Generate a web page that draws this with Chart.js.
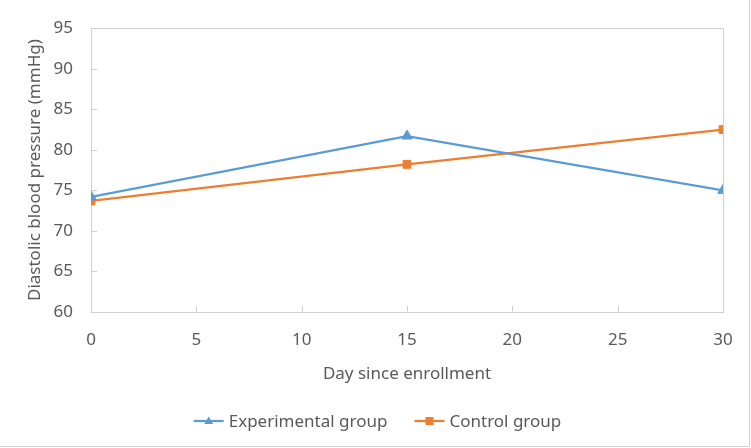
<!DOCTYPE html>
<html>
<head>
<meta charset="utf-8">
<script src="https://cdn.jsdelivr.net/npm/chart.js@4.4.1/dist/chart.umd.min.js"></script>
<style>
  html, body { margin: 0; padding: 0; background: #fff; }
  #wrap { width: 751px; height: 448px; position: relative; }
</style>
</head>
<body>
<div id="wrap"><canvas id="myChart"></canvas></div>
<script>
const days = [0, 15, 30];
const experimentalValues = [74.2, 81.7, 75.0];
const controlValues = [73.7, 78.2, 82.5];
const seriesNames = ["Experimental group", "Control group"];
const xTitle = "Day since enrollment";
const yTitle = "Diastolic blood pressure (mmHg)";

const BLUE = "#5B9BD5";
const ORANGE = "#ED7D31";
const AXIS = "#d0d0d0";
const TEXT = "#595959";
const FONT = "'Noto Sans', 'Open Sans', sans-serif";

function toPoints(xs, ys) {
  return xs.map((x, i) => ({ x: x, y: ys[i] }));
}

// box around the plot, inward tick marks, outer frame and legend
const decorations = {
  id: "decorations",
  beforeDatasetsDraw(chart) {
    const { ctx, chartArea: a, scales } = chart;
    ctx.save();
    ctx.strokeStyle = AXIS;
    ctx.lineWidth = 1;
    ctx.strokeRect(Math.round(a.left) + 0.5, Math.round(a.top) + 0.5,
      Math.round(a.right - a.left), Math.round(a.bottom - a.top));
    ctx.beginPath();
    scales.y.ticks.forEach(t => {
      const py = Math.round(scales.y.getPixelForValue(t.value)) + 0.5;
      ctx.moveTo(a.left, py);
      ctx.lineTo(a.left + 6, py);
    });
    scales.x.ticks.forEach(t => {
      const px = Math.round(scales.x.getPixelForValue(t.value)) + 0.5;
      ctx.moveTo(px, a.bottom);
      ctx.lineTo(px, a.bottom - 6);
    });
    ctx.stroke();
    ctx.restore();
  },
  afterDraw(chart) {
    const { ctx, width, height } = chart;
    ctx.save();
    ctx.strokeStyle = AXIS;
    ctx.lineWidth = 1;
    ctx.beginPath();
    ctx.moveTo(width - 1.5, 0);
    ctx.lineTo(width - 1.5, height - 1.5);
    ctx.lineTo(0, height - 1.5);
    ctx.stroke();

    ctx.font = "17px " + FONT;
    ctx.textBaseline = "middle";
    const lineLen = 30, gapText = 5, gapItem = 27;
    const items = chart.data.datasets.map(ds => ({
      ds: ds, w: ctx.measureText(ds.label).width
    }));
    let total = 0;
    items.forEach((it, i) => { total += lineLen + gapText + it.w + (i ? gapItem : 0); });
    let x = width / 2 + 2 - total / 2;
    const y = 421;
    items.forEach((it, i) => {
      if (i) x += gapItem;
      ctx.strokeStyle = it.ds.borderColor;
      ctx.lineWidth = 2.25;
      ctx.beginPath();
      ctx.moveTo(x, y);
      ctx.lineTo(x + lineLen, y);
      ctx.stroke();
      ctx.fillStyle = it.ds.borderColor;
      const cx = x + lineLen / 2;
      if (it.ds.pointStyle === "triangle") {
        ctx.beginPath();
        ctx.moveTo(cx, y - 4.5);
        ctx.lineTo(cx + 4.5, y + 3);
        ctx.lineTo(cx - 4.5, y + 3);
        ctx.closePath();
        ctx.fill();
      } else {
        ctx.fillRect(cx - 4, y - 4, 8, 8);
      }
      x += lineLen + gapText;
      ctx.fillStyle = TEXT;
      ctx.fillText(it.ds.label, x, y + 1);
      x += it.w;
    });
    ctx.restore();
  }
};

const ctx = document.getElementById("myChart").getContext("2d");
const myChart = new Chart(ctx, {
  type: "line",
  data: {
    datasets: [
      {
        label: seriesNames[0],
        data: toPoints(days, experimentalValues),
        borderColor: BLUE,
        backgroundColor: BLUE,
        borderWidth: 2.25,
        pointStyle: "triangle",
        pointRadius: 6,
        pointBorderWidth: 1,
        tension: 0,
      },
      {
        label: seriesNames[1],
        data: toPoints(days, controlValues),
        borderColor: ORANGE,
        backgroundColor: ORANGE,
        borderWidth: 2.25,
        pointStyle: "rect",
        pointRadius: 5.5,
        pointBorderWidth: 1,
        tension: 0,
      },
    ],
  },
  options: {
    responsive: true,
    maintainAspectRatio: false,
    animation: false,
    layout: { padding: { left: 0, right: 28, top: 23, bottom: 60 } },
    plugins: {
      legend: { display: false },
      tooltip: { enabled: false },
    },
    scales: {
      x: {
        type: "linear",
        min: 0,
        max: 30,
        ticks: { stepSize: 5, color: TEXT, font: { family: FONT, size: 17 }, padding: 18 },
        grid: { display: false, drawTicks: false },
        border: { display: false },
        title: { display: true, text: xTitle, color: TEXT, font: { family: FONT, size: 17 }, padding: { top: 4, bottom: 4 } },
        afterFit(scale) { scale.height = 76; },
      },
      y: {
        min: 60,
        max: 95,
        ticks: { stepSize: 5, color: TEXT, font: { family: FONT, size: 17 }, padding: 18 },
        grid: { display: false, drawTicks: false },
        border: { display: false },
        title: { display: true, text: yTitle, color: TEXT, font: { family: FONT, size: 17 }, padding: { top: 25, bottom: 4 } },
        afterFit(scale) { scale.width = 91; },
      },
    },
  },
  plugins: [decorations],
});
</script>
</body>
</html>
